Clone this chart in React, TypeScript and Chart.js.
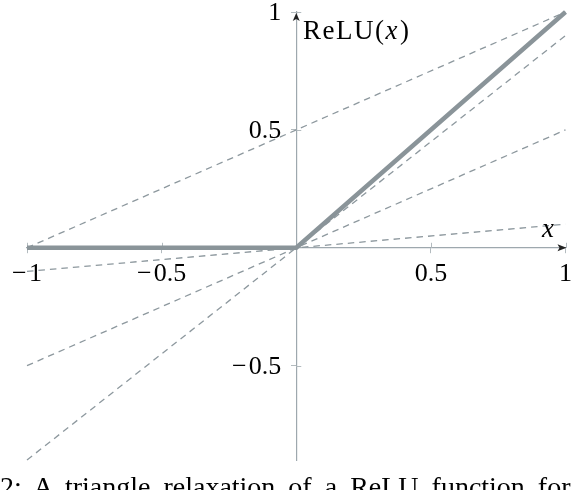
import React, { useEffect, useRef } from "react";
import { Chart, registerables } from "chart.js";

Chart.register(...registerables);

// ---- data ----
const xTicks = [-1, -0.5, 0.5, 1];
const yTicks = [-0.5, 0.5, 1];
const reluX = [-1, 0, 1];
const reluY = [0, 0, 1];
const boundX = [-1, 1];
const upperBoundY = [0, 1];
const lowerBound1Y = [-0.9, 0.9];
const lowerBound2Y = [-0.5, 0.5];
const lowerBound3Y = [-0.1, 0.1];
const xMin = -1;
const xMax = 1;
const yMin = -0.9;
const yMax = 1;
const xAxisLabel = "x";
const yAxisLabelPre = "ReLU(";
const yAxisLabelVar = "x";
const yAxisLabelPost = ")";
const caption = "2: A triangle relaxation of a ReLU function for";

const FONT = "'Liberation Serif', 'Times New Roman', serif";
const AXIS_COLOR = "#9ea8ae";
const TICK_COLOR = "#b3bbbf";
const RELU_COLOR = "#8a9499";
const DASH_COLOR = "#8d989e";
const TICK_LEN = 5;

const fmt = (v: number) => (v < 0 ? "\u2212\u200A" + String(-v) : String(v));
const pts = (xs: number[], ys: number[]) => xs.map((x, i) => ({ x, y: ys[i] }));

const decor = {
  id: "decor",
  beforeDatasetsDraw(chart: any) {
    const { ctx, scales } = chart;
    const sx = scales.x;
    const sy = scales.y;
    const x0 = sx.getPixelForValue(0);
    const y0 = sy.getPixelForValue(0);
    ctx.save();
    ctx.strokeStyle = TICK_COLOR;
    ctx.lineWidth = 1;
    ctx.beginPath();
    xTicks.forEach((v) => {
      const px = Math.round(sx.getPixelForValue(v)) + 0.5;
      ctx.moveTo(px, y0);
      ctx.lineTo(px, y0 - TICK_LEN);
    });
    yTicks.forEach((v) => {
      const py = Math.round(sy.getPixelForValue(v)) + 0.5;
      ctx.moveTo(x0, py);
      ctx.lineTo(x0 + TICK_LEN, py);
    });
    ctx.stroke();
    // y tick labels (left of the centred axis)
    ctx.fillStyle = "#000";
    ctx.font = `26px ${FONT}`;
    ctx.textAlign = "right";
    ctx.textBaseline = "middle";
    yTicks.forEach((v) => {
      ctx.fillText(fmt(v), x0 - 15, sy.getPixelForValue(v) + 1);
    });
    ctx.restore();
  },
  afterDatasetsDraw(chart: any) {
    const { ctx, scales } = chart;
    const sx = scales.x;
    const sy = scales.y;
    const x0 = sx.getPixelForValue(0);
    const y0 = sy.getPixelForValue(0);
    const xe = sx.getPixelForValue(xMax);
    const ye = sy.getPixelForValue(yMax);
    ctx.save();
    ctx.fillStyle = "#222";
    // x arrow
    ctx.beginPath();
    ctx.moveTo(xe + 1, y0);
    ctx.lineTo(xe - 8, y0 - 3.5);
    ctx.lineTo(xe - 6, y0);
    ctx.lineTo(xe - 8, y0 + 3.5);
    ctx.closePath();
    ctx.fill();
    // y arrow
    ctx.beginPath();
    ctx.moveTo(x0, ye + 1);
    ctx.lineTo(x0 - 3.5, ye + 9);
    ctx.lineTo(x0, ye + 7);
    ctx.lineTo(x0 + 3.5, ye + 9);
    ctx.closePath();
    ctx.fill();

    // axis labels
    ctx.fillStyle = "#000";
    ctx.textBaseline = "alphabetic";
    ctx.textAlign = "left";
    ctx.font = `italic 27px ${FONT}`;
    ctx.fillText(xAxisLabel, 542, 237);
    (ctx as any).letterSpacing = "1.5px";
    let lx = 303;
    const ly = 39;
    ctx.font = `27px ${FONT}`;
    ctx.fillText(yAxisLabelPre, lx, ly);
    lx += ctx.measureText(yAxisLabelPre).width;
    ctx.font = `italic 27px ${FONT}`;
    ctx.fillText(yAxisLabelVar, lx, ly);
    lx += ctx.measureText(yAxisLabelVar).width + 1;
    ctx.font = `27px ${FONT}`;
    ctx.fillText(yAxisLabelPost, lx, ly);
    (ctx as any).letterSpacing = "0px";
    ctx.restore();
  },
};

export default function App() {
  const ref = useRef<HTMLCanvasElement | null>(null);

  useEffect(() => {
    if (!ref.current) return;
    const dashed = {
      borderColor: DASH_COLOR,
      borderWidth: 1.3,
      borderDash: [6.5, 5],
      pointRadius: 0,
      fill: false,
      tension: 0,
      clip: false as any,
    };
    const chart = new Chart(ref.current, {
      type: "line",
      data: {
        datasets: [
          {
            label: "ReLU",
            data: pts(reluX, reluY),
            borderColor: RELU_COLOR,
            borderWidth: 4.5,
            borderCapStyle: "butt",
            borderJoinStyle: "miter",
            pointRadius: 0,
            fill: false,
            tension: 0,
            clip: false as any,
          },
          { label: "upper", data: pts(boundX, upperBoundY), ...dashed },
          { label: "lower 0.9", data: pts(boundX, lowerBound1Y), ...dashed },
          { label: "lower 0.5", data: pts(boundX, lowerBound2Y), ...dashed },
          { label: "lower 0.1", data: pts(boundX, lowerBound3Y), ...dashed },
        ],
      },
      options: {
        animation: false,
        responsive: false,
        maintainAspectRatio: false,
        layout: { padding: { left: 27, right: 11.5, top: 12, bottom: 30 } },
        plugins: {
          legend: { display: false },
          tooltip: { enabled: false },
          title: { display: false },
        },
        scales: {
          x: {
            type: "linear",
            position: { y: 0 } as any,
            min: xMin,
            max: xMax,
            afterBuildTicks: (s: any) => {
              s.ticks = xTicks.map((v) => ({ value: v }));
            },
            grid: {
              drawOnChartArea: false,
              drawTicks: true,
              tickLength: TICK_LEN,
              color: TICK_COLOR,
              lineWidth: 1,
            },
            border: { display: true, color: AXIS_COLOR, width: 1.2 },
            ticks: {
              color: "#000",
              font: { family: FONT, size: 26 },
              padding: 6,
              maxRotation: 0,
              autoSkip: false,
              callback: (v: any) => fmt(Number(v)),
            },
          },
          y: {
            type: "linear",
            position: { x: 0 } as any,
            min: yMin,
            max: yMax,
            afterBuildTicks: (s: any) => {
              s.ticks = yTicks.map((v) => ({ value: v }));
            },
            grid: {
              drawOnChartArea: false,
              drawTicks: true,
              tickLength: TICK_LEN,
              color: TICK_COLOR,
              lineWidth: 1,
            },
            border: { display: true, color: AXIS_COLOR, width: 1.2 },
            ticks: {
              display: false,
              autoSkip: false,
            },
          },
        },
      },
      plugins: [decor],
    });
    return () => chart.destroy();
  }, []);

  return (
    <div
      style={{
        position: "fixed",
        left: 0,
        top: 0,
        width: 578,
        height: 490,
        overflow: "hidden",
        background: "#fff",
      }}
    >
      <canvas ref={ref} width={578} height={490} style={{ display: "block" }} />
      <div
        style={{
          position: "absolute",
          left: 0,
          top: 473,
          fontFamily: FONT,
          fontSize: 28,
          lineHeight: "28px",
          whiteSpace: "nowrap",
          wordSpacing: 6,
          color: "#000",
        }}
      >
        {caption}
      </div>
    </div>
  );
}
